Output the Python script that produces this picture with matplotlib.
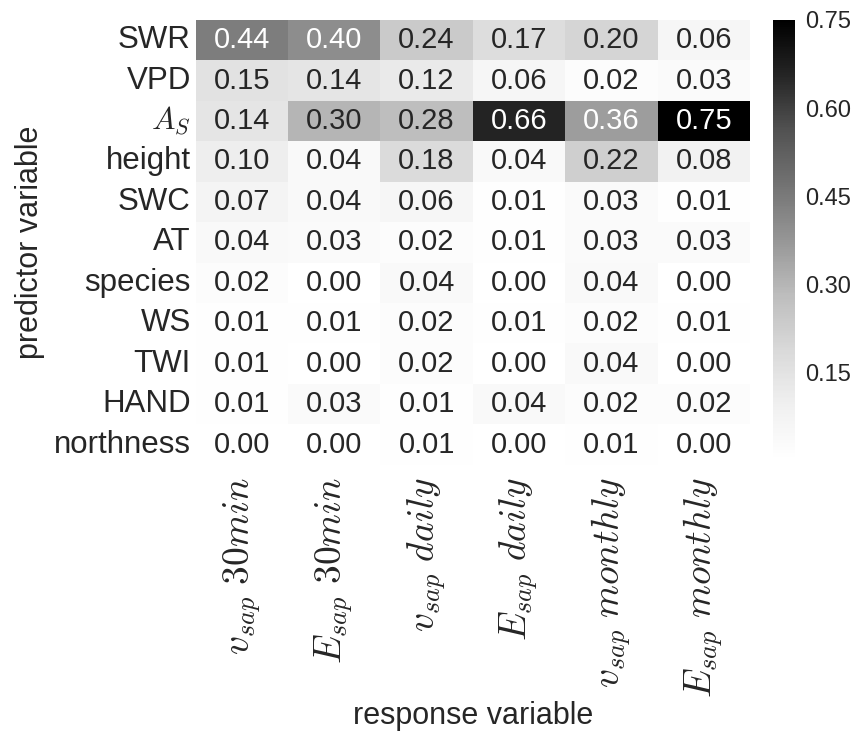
import numpy as np
import matplotlib
matplotlib.use("Agg")
import matplotlib.pyplot as plt
import seaborn as sns

predictors = ["SWR", "VPD", r"$A_S$", "height", "SWC", "AT", "species",
              "WS", "TWI", "HAND", "northness"]
responses = [r"$v_{sap}\ 30min$", r"$E_{sap}\ 30min$", r"$v_{sap}\ daily$",
             r"$E_{sap}\ daily$", r"$v_{sap}\ monthly$", r"$E_{sap}\ monthly$"]

swr = [0.44, 0.40, 0.24, 0.17, 0.20, 0.06]
vpd = [0.15, 0.14, 0.12, 0.06, 0.02, 0.03]
a_s = [0.14, 0.30, 0.28, 0.66, 0.36, 0.75]
height = [0.10, 0.04, 0.18, 0.04, 0.22, 0.08]
swc = [0.07, 0.04, 0.06, 0.01, 0.03, 0.01]
at = [0.04, 0.03, 0.02, 0.01, 0.03, 0.03]
species = [0.02, 0.00, 0.04, 0.00, 0.04, 0.00]
ws = [0.01, 0.01, 0.02, 0.01, 0.02, 0.01]
twi = [0.01, 0.00, 0.02, 0.00, 0.04, 0.00]
hand = [0.01, 0.03, 0.01, 0.04, 0.02, 0.02]
northness = [0.00, 0.00, 0.01, 0.00, 0.01, 0.00]

importance = np.array([swr, vpd, a_s, height, swc, at, species, ws, twi,
                       hand, northness])
cbar_ticks = [0.15, 0.30, 0.45, 0.60, 0.75]

sns.set_style("white")
plt.rcParams["font.family"] = ["Liberation Sans", "DejaVu Sans"]
plt.rcParams["mathtext.fontset"] = "cm"

fig = plt.figure(figsize=(8.58, 7.40), dpi=100)
ax = fig.add_axes([0.228, 0.372, 0.646, 0.601])
cax = fig.add_axes([0.901, 0.378, 0.026, 0.595])

sns.heatmap(importance, ax=ax, cbar_ax=cax, cmap="Greys", vmin=0.0,
            vmax=0.75, annot=True, fmt=".2f",
            annot_kws={"fontsize": 21},
            xticklabels=responses, yticklabels=predictors,
            cbar_kws={"ticks": cbar_ticks})

ax.tick_params(axis="both", length=0)
ax.set_yticklabels(predictors, rotation=0, fontsize=22.5)
ax.set_xticklabels(responses, rotation=90, fontsize=27, ha="center")
ax.tick_params(axis="x", pad=9)
ax.set_xlabel("response variable", fontsize=22, labelpad=2)
ax.set_ylabel("predictor variable", fontsize=22, labelpad=6)

cax.tick_params(labelsize=17, length=0, pad=7)
cax.set_yticklabels(["%.2f" % t for t in cbar_ticks])
for spine in cax.spines.values():
    spine.set_visible(False)

fig.savefig("out.png", dpi=100)
